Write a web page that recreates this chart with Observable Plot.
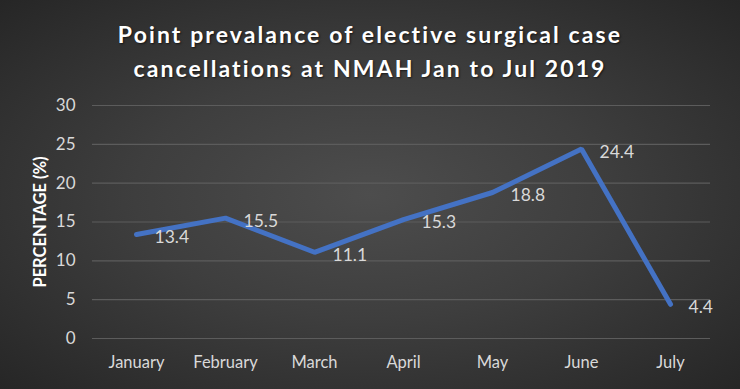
<!DOCTYPE html>
<html>
<head>
<meta charset="utf-8">
<script src="https://cdn.jsdelivr.net/npm/d3@7"></script>
<script src="https://cdn.jsdelivr.net/npm/@observablehq/plot@0.6"></script>
<style>
  html, body { margin: 0; padding: 0; }
  #chart {
    width: 740px; height: 389px; overflow: hidden;
    background: radial-gradient(ellipse at 50% 50%, #4d4d4d 0%, #3e3e3e 45%, #262626 100%);
    font-family: Lato, "Open Sans", sans-serif;
  }
  #title {
    height: 90px; box-sizing: border-box; padding-top: 17px;
    text-align: center; color: #ffffff; font-weight: bold; font-size: 23px;
    line-height: 34px; letter-spacing: 2.1px;
    text-shadow: 1px 1px 2px rgba(0,0,0,0.6);
  }
  svg { display: block; }
</style>
</head>
<body>
<div id="chart">
  <div id="title">Point prevalance of elective surgical case<br>cancellations at NMAH Jan to Jul 2019</div>
</div>
<script>
const months = ["January", "February", "March", "April", "May", "June", "July"];
const values = [13.4, 15.5, 11.1, 15.3, 18.8, 24.4, 4.4];
const yTicks = [0, 5, 10, 15, 20, 25, 30];

const data = months.map((m, i) => ({month: m, value: values[i]}));

const plot = Plot.plot({
  width: 740,
  height: 299,
  marginLeft: 88,
  marginRight: 23,
  marginTop: 15,
  marginBottom: 51,
  style: {background: "transparent", fontFamily: "Lato, 'Open Sans', sans-serif", color: "#d9d9d9", overflow: "visible"},
  x: {type: "point", domain: months, padding: 0.5, label: null},
  y: {domain: [0, 30], ticks: yTicks, label: null},
  marks: [
    Plot.ruleY(yTicks, {stroke: "#5c5c5c", strokeWidth: 1.2, insetLeft: 4, insetRight: 7}),
    Plot.axisX({tickSize: 0, tickPadding: 18, fontSize: 16.5, fill: "#d9d9d9"}),
    Plot.axisY({ticks: yTicks, tickSize: 0, tickPadding: 13, fontSize: 17, fill: "#d9d9d9", label: null}),
    Plot.line(data, {x: "month", y: "value", stroke: "#4472c4", strokeWidth: 5, strokeLinecap: "round", strokeLinejoin: "miter"}),
    Plot.text(data, {x: "month", y: "value", text: d => d.value.toFixed(1), textAnchor: "start", dx: 18, dy: 3, fontSize: 17.5, fill: "#d9d9d9"}),
    Plot.text(["PERCENTAGE (%)"], {frameAnchor: "left", textAnchor: "middle", dx: -48, rotate: -90, fontSize: 16.5, fontWeight: "bold", fill: "#ffffff", text: d => d})
  ]
});
document.getElementById("chart").appendChild(plot);
</script>
</body>
</html>
